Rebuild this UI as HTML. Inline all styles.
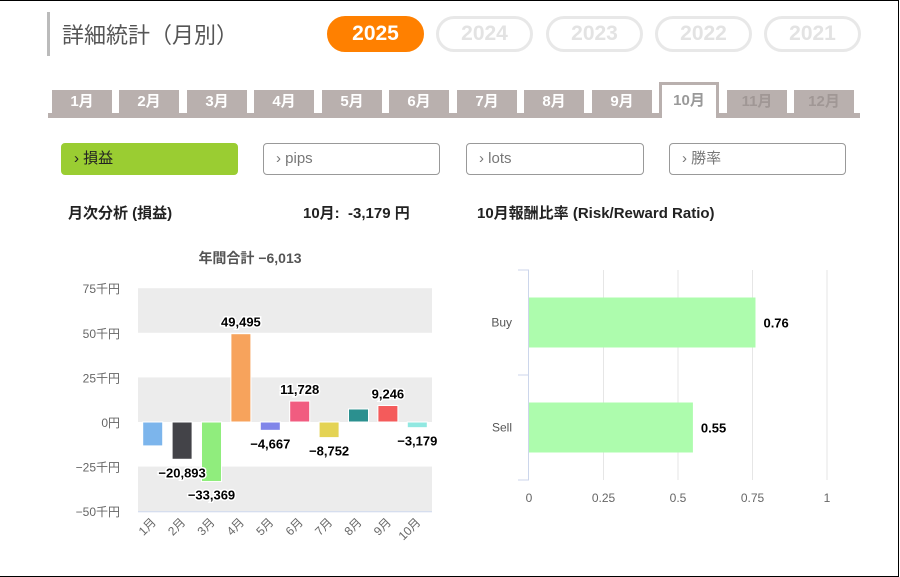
<!DOCTYPE html>
<html><head><meta charset="utf-8">
<style>
*{margin:0;padding:0;box-sizing:border-box}
body{width:900px;height:577px;background:#fff;font-family:"Liberation Sans","Noto Sans CJK JP",sans-serif;position:relative;overflow:hidden}
#frame{position:absolute;left:0;top:0;width:899px;height:577px;border:1px solid #000;border-left:none}
.abs{position:absolute}
.pill{position:absolute;top:16px;width:97px;height:36px;border-radius:18px;border:3px solid #e8e8e8;color:#e3e3e3;font-weight:bold;font-size:21px;text-align:center;line-height:30px}
.tab{position:absolute;top:90px;width:60px;height:23px;background:#b9b0ae;color:#fff;font-size:15px;font-weight:bold;text-align:center;line-height:24px}
.btn{position:absolute;top:143px;height:32px;border:1px solid #999;border-radius:4px;font-size:15px;color:#777;line-height:30px;padding-left:12px}
.h{position:absolute;top:202px;font-size:15px;font-weight:bold;color:#222}
</style></head><body>
<div id="frame"></div>
<div class="abs" style="left:47px;top:12px;width:3px;height:44px;background:#bbb"></div>
<div class="abs" style="left:62px;top:18px;font-size:22px;color:#555">詳細統計（月別）</div>
<div class="pill" style="left:327px;background:#ff8000;border-color:#ff8000;color:#fff">2025</div>
<div class="pill" style="left:436px">2024</div>
<div class="pill" style="left:546px">2023</div>
<div class="pill" style="left:655px">2022</div>
<div class="pill" style="left:764px">2021</div>
<div class="abs" style="left:48px;top:113px;width:812px;height:5px;background:#b9b0ae"></div>
<div class="tab" style="left:52px">1月</div>
<div class="tab" style="left:119px">2月</div>
<div class="tab" style="left:187px">3月</div>
<div class="tab" style="left:254px">4月</div>
<div class="tab" style="left:322px">5月</div>
<div class="tab" style="left:389px">6月</div>
<div class="tab" style="left:457px">7月</div>
<div class="tab" style="left:524px">8月</div>
<div class="tab" style="left:592px">9月</div>
<div class="tab" style="left:659px;top:82px;height:36px;background:#fff;border:3px solid #b9b0ae;border-bottom:none;color:#999;line-height:32px">10月</div>
<div class="tab" style="left:727px;color:#a09795">11月</div>
<div class="tab" style="left:794px;color:#a09795">12月</div>
<div class="btn" style="left:61px;width:177px;background:#9acd32;border-color:#9acd32;color:#222">› 損益</div>
<div class="btn" style="left:263px;width:177px">› pips</div>
<div class="btn" style="left:466px;width:178px">› lots</div>
<div class="btn" style="left:669px;width:177px">› 勝率</div>
<div class="h" style="left:68px">月次分析 (損益)</div>
<div class="h" style="left:303px">10月:&nbsp; -3,179 円</div>
<div class="h" style="left:477px">10月報酬比率 (Risk/Reward Ratio)</div>

<svg class="abs" style="left:0;top:0" width="900" height="577" id="svg"></svg>
<script>
const months=["1月","2月","3月","4月","5月","6月","7月","8月","9月","10月"];
const profits=[-13400,-20893,-33369,49495,-4667,11728,-8752,7300,9246,-3179];
const showLabel=[false,true,true,true,true,true,true,false,true,true];
const colors=["#7cb5ec","#434348","#90ed7d","#f7a35c","#8085e9","#f15c80","#e4d354","#2b908f","#f45b5b","#91e8e1"];
const yTicks=[75000,50000,25000,0,-25000,-50000];
const yTickLabels=["75千円","50千円","25千円","0円","−25千円","−50千円"];
const rrCats=["Buy","Sell"];
const rrVals=[0.76,0.55];
const xTicks=[0,0.25,0.5,0.75,1];
const xTickLabels=["0","0.25","0.5","0.75","1"];

const NS="http://www.w3.org/2000/svg";
const svg=document.getElementById('svg');
function mk(t,a,txt){const e=document.createElementNS(NS,t);for(const k in a)e.setAttribute(k,a[k]);if(txt!=null)e.textContent=txt;svg.appendChild(e);return e;}
const fmt=v=>(v<0?"−":"")+Math.abs(v).toLocaleString("en-US");

// left chart
const L=138,R=432;
const y=v=>422-(v/25000)*44.6;
const band=(i)=>L+(R-L)/months.length*(i+0.5);
let t=mk('text',{x:250,y:263,'text-anchor':'middle','font-size':14,'font-weight':'bold',fill:'#555'},"年間合計 −6,013");


[[75000,50000],[25000,0],[-25000,-50000]].forEach(p=>{
  const r=mk('rect',{x:L,y:y(p[0]),width:R-L,height:y(p[1])-y(p[0]),fill:'#ececec'});
  
  
});
mk('line',{x1:L,x2:R,y1:y(-50000)+0.5,y2:y(-50000)+0.5,stroke:'#ccd6eb'});
yTicks.forEach((v,i)=>{
  const e=mk('text',{x:120,y:y(v)+5,'text-anchor':'end','font-size':12,fill:'#666'},yTickLabels[i]);
  
  
});
profits.forEach((v,i)=>{
  const cx=band(i),top=Math.min(y(v),y(0)),h=Math.abs(y(v)-y(0));
  const b=mk('rect',{x:cx-10,y:top,width:20,height:h,fill:colors[i],stroke:'#fff','stroke-width':1});
  
  
  const xl=mk('text',{x:cx+4,y:523,'text-anchor':'end','font-size':12,fill:'#666',transform:`rotate(-45 ${cx+4} 523)`},months[i]);
  
  
});
profits.forEach((v,i)=>{
  if(!showLabel[i])return;
  const cx=band(i);
  const ly=v>=0?y(v)-7:y(v)+18;
  const e=mk('text',{x:cx,y:ly,'text-anchor':'middle','font-size':13,'font-weight':'bold',fill:'#000',stroke:'#fff','stroke-width':3,'paint-order':'stroke'},fmt(v));
  
  
});

// right chart
const X0=529,X1=827,T=270,B=480;
const x=v=>X0+(X1-X0)*v;
const catH=(B-T)/rrCats.length;
xTicks.forEach((v,i)=>{
  if(i>0){const g=mk('line',{x1:x(v),x2:x(v),y1:T,y2:B,stroke:'#e6e6e6'});
  
  }
  const e=mk('text',{x:x(v),y:502,'text-anchor':'middle','font-size':12,fill:'#666'},xTickLabels[i]);
  
  
});
mk('line',{x1:X0-0.5,x2:X0-0.5,y1:T,y2:B,stroke:'#ccd6eb'});
for(let i=0;i<=rrCats.length;i++)mk('line',{x1:X0-11,x2:X0,y1:T+catH*i,y2:T+catH*i,stroke:'#ccd6eb'});
rrVals.forEach((v,i)=>{
  const cy=T+catH*(i+0.5);
  const b=mk('rect',{x:X0,y:cy-25,width:x(v)-X0,height:50,fill:'#adfcad'});
  
  
  const l=mk('text',{x:X0-17,y:cy+4,'text-anchor':'end','font-size':12,fill:'#555'},rrCats[i]);
  
  
  const e=mk('text',{x:x(v)+8,y:cy+5,'font-size':13,'font-weight':'bold',fill:'#000'},v.toFixed(2));
  
  
});
</script>
</body></html>
